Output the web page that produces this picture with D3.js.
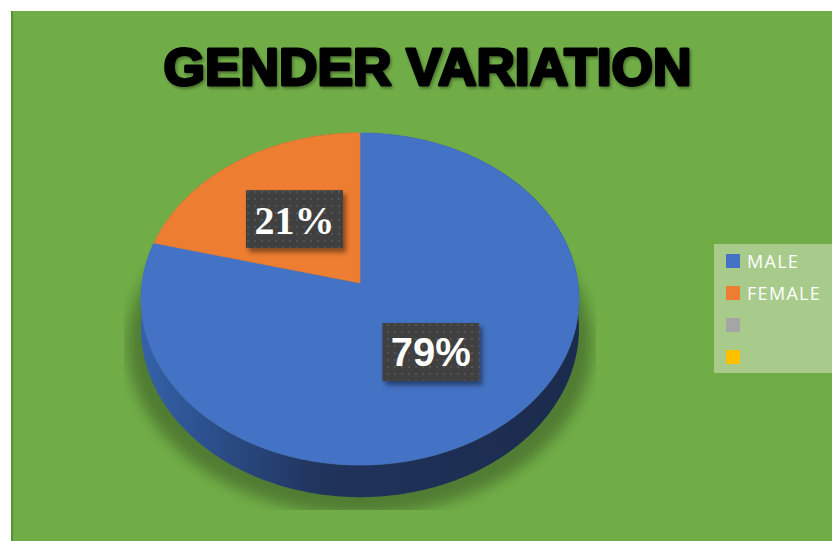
<!DOCTYPE html>
<html><head><meta charset="utf-8">
<script src="https://cdn.jsdelivr.net/npm/d3@7"></script>
<style>html,body{margin:0;padding:0;background:#fff;}svg{display:block;}</style>
</head><body>
<svg id="c" width="832" height="541"></svg>
<script>
const title = "GENDER VARIATION";
const categories = ["MALE", "FEMALE", "", ""];
const values = [79, 21, 0, 0];
const labels = ["79%", "21%", "", ""];
const colors = ["#4472C4", "#ED7D31", "#A5A5A5", "#FFC000"];
const labelFonts = ["Liberation Sans, Arial, sans-serif", "Liberation Serif, Times New Roman, serif"];

const svg = d3.select("#c");
const W = 832, H = 541;
const defs = svg.append("defs");

// background panel
svg.append("rect").attr("x", 11).attr("y", 11).attr("width", W - 11).attr("height", H - 11).attr("fill", "#70AD47");
svg.append("rect").attr("x", 11).attr("y", 11).attr("width", 2).attr("height", H - 11).attr("fill", "#5A8F3A");

// perspective projection of the pie disc
const cx = 360, cy = 283, f = 1482, D = 6.8, phi = Math.asin(0.755), K = 197;
function proj(theta, r = 1, drop = 0) {
  const X = r * Math.sin(theta), Z = r * Math.cos(theta);
  const den = D + Z * Math.cos(phi);
  return [cx + f * X / den, cy - f * Z * Math.sin(phi) / den + drop * K / den];
}
function rim(a0, a1, drop) {
  const n = Math.max(2, Math.ceil(Math.abs(a1 - a0) / 0.01));
  return d3.range(n + 1).map(i => proj(a0 + (a1 - a0) * i / n, 1, drop));
}

const pie = d3.pie().sort(null).value(d => d.v).startAngle(0).endAngle(2 * Math.PI);
const data = categories.map((c, i) => ({ c, v: values[i], color: colors[i], label: labels[i], i }));
const arcs = pie(data).filter(a => a.data.v > 0);

// shadow
const blur = defs.append("filter").attr("id", "blur").attr("x", "-20%").attr("y", "-20%").attr("width", "140%").attr("height", "140%");
blur.append("feGaussianBlur").attr("stdDeviation", 7);
defs.append("clipPath").attr("id", "shclip").append("rect").attr("x", 124).attr("y", 120).attr("width", 472).attr("height", 390);
svg.append("g").attr("clip-path", "url(#shclip)")
  .append("path")
  .attr("d", d3.line()(rim(0, 2 * Math.PI, 1.35).map(p => [cx + (p[0] - cx) * 1.06, p[1] + 6])) + "Z")
  .attr("fill", "#000").attr("opacity", 0.28).attr("filter", "url(#blur)");

// side gradient
const sg = defs.append("linearGradient").attr("id", "side").attr("gradientUnits", "userSpaceOnUse")
  .attr("x1", 140).attr("x2", 580).attr("y1", 0).attr("y2", 0);
[[0, "#3462AA"], [0.22, "#294880"], [0.42, "#20335B"], [1, "#1B2B4D"]].forEach(s =>
  sg.append("stop").attr("offset", s[0]).attr("stop-color", s[1]));

// sides
arcs.forEach(a => {
  const pts = rim(a.startAngle, a.endAngle, 0).concat(rim(a.endAngle, a.startAngle, 1));
  svg.append("path").attr("d", d3.line()(pts) + "Z").attr("fill", "url(#side)");
});

// top faces
arcs.forEach(a => {
  const pts = [[cx, cy]].concat(rim(a.startAngle, a.endAngle, 0));
  svg.append("path").attr("d", d3.line()(pts) + "Z")
    .attr("fill", a.data.color).attr("stroke", a.data.color).attr("stroke-width", 0.6);
});

// data label boxes
const pat = defs.append("pattern").attr("id", "dots").attr("patternUnits", "userSpaceOnUse")
  .attr("width", 7).attr("height", 7);
pat.append("rect").attr("width", 7).attr("height", 7).attr("fill", "#404040");
pat.append("rect").attr("x", 2).attr("y", 2).attr("width", 2).attr("height", 2).attr("fill", "#525252");
const ds = defs.append("filter").attr("id", "lshadow").attr("x", "-20%").attr("y", "-20%").attr("width", "150%").attr("height", "160%");
ds.append("feDropShadow").attr("dx", 3).attr("dy", 4).attr("stdDeviation", 2.5).attr("flood-color", "#000").attr("flood-opacity", 0.45);

const labelR = 0.51;
arcs.forEach(a => {
  const mid = (a.startAngle + a.endAngle) / 2;
  const [lx, ly] = proj(mid, labelR, 0);
  const bw = 97, bh = 58;
  svg.append("rect").attr("x", lx - bw / 2).attr("y", ly - bh / 2).attr("width", bw).attr("height", bh)
    .attr("fill", "url(#dots)").attr("filter", "url(#lshadow)");
  svg.append("text").attr("x", lx).attr("y", ly + 14.5)
    .attr("text-anchor", "middle").attr("fill", "#fff").attr("font-weight", "bold")
    .attr("font-family", labelFonts[a.data.i]).attr("font-size", 40)
    .text(a.data.label);
});

// title
const ts = defs.append("filter").attr("id", "tshadow").attr("x", "-5%").attr("y", "-20%").attr("width", "110%").attr("height", "150%");
ts.append("feDropShadow").attr("dx", 1.5).attr("dy", 2).attr("stdDeviation", 1.5).attr("flood-color", "#000").attr("flood-opacity", 0.35);
svg.append("text").attr("x", 427.5).attr("y", 84.5).attr("text-anchor", "middle")
  .attr("font-family", "Liberation Sans, Arial, sans-serif").attr("font-weight", "bold")
  .attr("font-size", 52).attr("fill", "#000").attr("stroke", "#000").attr("stroke-width", 3)
  .attr("stroke-linejoin", "round")
  .attr("textLength", 528).attr("lengthAdjust", "spacingAndGlyphs")
  .attr("filter", "url(#tshadow)").text(title);

// legend
const lg = svg.append("g");
lg.append("rect").attr("x", 714).attr("y", 244).attr("width", W - 714).attr("height", 129).attr("fill", "#A8CB8C");
data.forEach((d, i) => {
  const y = 254 + i * 32;
  lg.append("rect").attr("x", 726).attr("y", y).attr("width", 14).attr("height", 14).attr("fill", d.color);
  lg.append("text").attr("x", 747).attr("y", y + 13.5).attr("fill", "#fff")
    .attr("font-family", "Open Sans, sans-serif").attr("font-size", 18).attr("letter-spacing", 1.3)
    .text(d.c);
});
</script>
</body></html>
